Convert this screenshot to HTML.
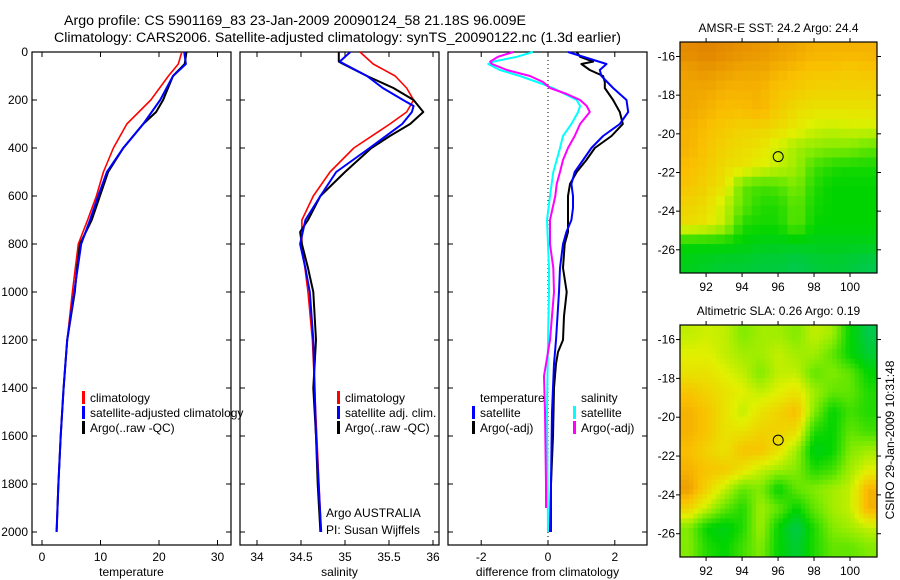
<!DOCTYPE html>
<html><head><meta charset="utf-8"><style>
html,body{margin:0;padding:0;background:#fff;}
svg{display:block;font-family:"Liberation Sans",Helvetica,Arial,sans-serif;}
</style></head><body>
<svg id="fig" width="900" height="580" viewBox="0 0 900 580" xmlns="http://www.w3.org/2000/svg">
<text x="64" y="25" font-size="14.2">Argo profile: CS 5901169_83 23-Jan-2009 20090124_58 21.18S 96.009E</text>
<text x="54" y="42" font-size="14.2">Climatology: CARS2006. Satellite-adjusted climatology: synTS_20090122.nc (1.3d earlier)</text>
<g id="g"></g>
</svg>
<script>
// ---------- data ----------
const depthTicks=[0,200,400,600,800,1000,1200,1400,1600,1800,2000];
const tempTicks=[0,10,20,30];
const salTicks=[34,34.5,35,35.5,36];
const diffTicks=[-2,0,2];
const lonTicks=[92,94,96,98,100];
const latTicks=[-16,-18,-20,-22,-24,-26];

const tArgoD=[0,50,100,200,250,300,400,500,600,700,800,900,1000,1200,1400,1600,1800,2000];
const tArgoV=[24.7,24.4,22.4,20.7,19.5,17.3,13.9,11.3,9.9,8.5,6.5,6.0,5.6,4.3,3.7,3.2,2.8,2.5];
const tClimD=[0,50,100,200,300,400,500,600,700,800,1000,1200,1400,1600,1800,2000];
const tClimV=[23.9,23.3,21.6,18.6,14.5,12.2,10.5,9.3,7.8,6.2,5.2,4.3,3.7,3.2,2.8,2.5];
const tSatD=[0,50,100,200,300,400,500,600,700,800,1000,1200,1400,1600,1800,2000];
const tSatV=[24.3,24.6,22.4,20.2,17.3,13.9,11.1,9.6,8.2,6.7,5.5,4.3,3.7,3.2,2.8,2.5];

const sArgoD=[0,40,50,100,150,200,250,300,350,400,500,600,700,750,800,900,1000,1200,1400,1600,1800,2000];
const sArgoV=[34.93,34.93,34.98,35.25,35.55,35.78,35.89,35.74,35.51,35.30,35.0,34.72,34.58,34.49,34.51,34.58,34.64,34.67,34.64,34.67,34.69,34.72];
const sSatD=[0,40,100,150,200,225,250,300,400,500,600,700,800,900,1000,1200,1600,2000];
const sSatV=[35.06,34.94,35.25,35.43,35.66,35.78,35.76,35.65,35.28,34.9,34.72,34.55,34.49,34.55,34.6,34.64,34.67,34.73];
const sClimD=[0,50,100,150,200,250,300,400,500,600,700,800,1000,1200,1600,2000];
const sClimV=[35.17,35.32,35.57,35.70,35.78,35.70,35.51,35.10,34.83,34.64,34.51,34.51,34.58,34.63,34.68,34.73];

const dTArgoD=[0,20,40,50,75,100,125,150,200,250,300,350,400,450,500,550,600,700,750,800,900,1000,1100,1200,1250,1300,1400,1600,1800,2000];
const dTArgoV=[0.86,0.96,1.35,1.0,1.25,1.65,1.7,1.7,1.95,2.15,2.24,1.9,1.4,1.15,0.86,0.66,0.6,0.6,0.6,0.5,0.45,0.56,0.48,0.45,0.3,0.24,0.18,0.15,0.09,0.06];
const dTSatD=[0,50,75,100,150,200,250,300,350,400,450,500,550,600,650,700,750,800,900,1000,1200,1300,1500,1800,2000];
const dTSatV=[0.6,1.75,1.55,1.6,1.95,2.35,2.4,2.15,1.65,1.3,1.05,0.8,0.7,0.75,0.75,0.7,0.55,0.45,0.36,0.33,0.24,0.18,0.12,0.09,0.09];
const dSArgoD=[0,20,40,50,75,100,125,150,175,200,225,250,300,350,400,450,500,550,600,700,800,900,1000,1200,1300,1350,1500,1800,1900];
const dSArgoV=[-1.04,-1.5,-1.73,-1.68,-1.23,-0.54,-0.15,0.06,0.56,0.96,1.16,1.25,0.96,0.8,0.6,0.45,0.36,0.26,0.22,0.06,0.06,0.16,0.18,0.06,-0.06,-0.12,-0.09,-0.06,-0.06];
const dSSatD=[0,20,40,50,75,100,125,150,200,225,250,300,350,400,450,500,600,700,800,900,1000,1200,1500,2000];
const dSSatV=[-0.45,-0.93,-1.64,-1.79,-1.44,-0.84,-0.33,0.15,0.86,0.96,0.9,0.7,0.45,0.36,0.26,0.16,0.06,-0.03,0,0.03,0.03,0,-0.03,0];

// map grids: rows north->south (1 deg), cols west->east (1 deg), normalized colour value 0..1
const sstGrid=[
[0.95,0.97,0.95,0.93,0.92,0.9,0.88,0.85,0.85,0.85,0.85],
[0.9,0.92,0.9,0.88,0.88,0.85,0.82,0.8,0.8,0.78,0.8],
[0.88,0.88,0.85,0.85,0.85,0.8,0.78,0.75,0.75,0.75,0.75],
[0.88,0.85,0.82,0.82,0.85,0.78,0.72,0.7,0.7,0.7,0.7],
[0.85,0.82,0.78,0.75,0.75,0.72,0.68,0.62,0.6,0.62,0.62],
[0.85,0.8,0.75,0.72,0.7,0.62,0.55,0.52,0.5,0.5,0.45],
[0.82,0.78,0.72,0.7,0.65,0.6,0.55,0.4,0.35,0.33,0.33],
[0.8,0.75,0.7,0.45,0.4,0.42,0.5,0.35,0.3,0.3,0.3],
[0.75,0.72,0.6,0.45,0.35,0.35,0.45,0.33,0.3,0.3,0.3],
[0.72,0.68,0.6,0.35,0.33,0.33,0.45,0.3,0.3,0.3,0.3],
[0.3,0.3,0.3,0.28,0.25,0.25,0.25,0.25,0.25,0.25,0.25],
[0.25,0.22,0.2,0.2,0.18,0.18,0.15,0.18,0.2,0.18,0.15]];
const slaGrid=[
[0.6,0.62,0.6,0.5,0.55,0.55,0.5,0.6,0.55,0.3,0.15],
[0.65,0.65,0.6,0.55,0.55,0.6,0.55,0.55,0.45,0.3,0.2],
[0.7,0.7,0.65,0.6,0.5,0.6,0.6,0.45,0.5,0.45,0.3],
[0.8,0.75,0.7,0.65,0.6,0.65,0.7,0.55,0.45,0.45,0.35],
[0.85,0.8,0.7,0.6,0.7,0.75,0.82,0.5,0.3,0.4,0.35],
[0.85,0.8,0.7,0.7,0.75,0.75,0.72,0.35,0.3,0.45,0.4],
[0.82,0.75,0.7,0.8,0.8,0.7,0.55,0.25,0.3,0.5,0.55],
[0.85,0.8,0.78,0.7,0.6,0.55,0.5,0.35,0.4,0.55,0.65],
[0.9,0.75,0.6,0.45,0.5,0.3,0.45,0.5,0.55,0.6,0.85],
[0.75,0.6,0.45,0.35,0.55,0.45,0.3,0.45,0.55,0.6,0.85],
[0.5,0.3,0.25,0.35,0.55,0.3,0.15,0.35,0.5,0.55,0.6],
[0.5,0.35,0.3,0.4,0.5,0.3,0.2,0.35,0.45,0.45,0.5]];
const argoLon=96.009, argoLat=-21.18;

// ---------- drawing ----------
const NS='http://www.w3.org/2000/svg';
const G=document.getElementById('g');
function mk(tag,attrs,parent){const e=document.createElementNS(NS,tag);for(const k in attrs)e.setAttribute(k,attrs[k]);(parent||G).appendChild(e);return e;}
function txt(s,x,y,attrs){const e=mk('text',Object.assign({x:x,y:y,'font-size':12},attrs||{}));e.textContent=s;return e;}

const Y0=52,Y1=545;
const yD=d=>52+d*0.24;
const panels=[
 {x0:32,x1:231,fx:v=>42+v*5.85,ticks:tempTicks,label:'temperature',name:'temperature'},
 {x0:240,x1:439,fx:v=>257+(v-34)*88,ticks:salTicks,label:'salinity',name:'salinity'},
 {x0:448,x1:647,fx:v=>548+v*33.4,ticks:diffTicks,label:'difference from climatology',name:'difference'}];

panels.forEach((p,i)=>{
  const box=mk('rect',{x:p.x0,y:Y0,width:p.x1-p.x0,height:Y1-Y0,fill:'none',stroke:'#000','stroke-width':1.2});
  
  
  depthTicks.forEach(d=>{
    const y=yD(d);
    mk('line',{x1:p.x0,x2:p.x0+5,y1:y,y2:y,stroke:'#000'});
    mk('line',{x1:p.x1,x2:p.x1-5,y1:y,y2:y,stroke:'#000'});
    if(i===0){const t=txt(String(d),p.x0-4,y+4,{'text-anchor':'end'});
      
      }
  });
  p.ticks.forEach(v=>{
    const x=p.fx(v);
    mk('line',{x1:x,x2:x,y1:Y1,y2:Y1-5,stroke:'#000'});
    mk('line',{x1:x,x2:x,y1:Y0,y2:Y0+5,stroke:'#000'});
    const t=txt(String(v),x,Y1+16,{'text-anchor':'middle'});
    
    
  });
  const l=txt(p.label,(p.x0+p.x1)/2,Y1+31,{'text-anchor':'middle'});
  
  
});
const zl=mk('line',{x1:548,x2:548,y1:Y0,y2:Y1,stroke:'#000','stroke-dasharray':'1,3'});



function series(p,D,V,col,w,name){
  const pts=D.map((d,k)=>p.fx(V[k]).toFixed(1)+','+yD(d).toFixed(1)).join(' ');
  const e=mk('polyline',{points:pts,fill:'none',stroke:col,'stroke-width':w,'stroke-linejoin':'round'});
  
  
}
series(panels[0],tClimD,tClimV,'#f00',1.6,'temp-climatology-line');
series(panels[0],tArgoD,tArgoV,'#000',2,'temp-argo-line');
series(panels[0],tSatD,tSatV,'#00f',2,'temp-satellite-line');
series(panels[1],sClimD,sClimV,'#f00',1.6,'sal-climatology-line');
series(panels[1],sArgoD,sArgoV,'#000',2,'sal-argo-line');
series(panels[1],sSatD,sSatV,'#00f',2,'sal-satellite-line');
series(panels[2],dSSatD,dSSatV,'#0ff',2,'diff-sal-satellite-line');
series(panels[2],dSArgoD,dSArgoV,'#f0f',2,'diff-sal-argo-line');
series(panels[2],dTArgoD,dTArgoV,'#000',2,'diff-temp-argo-line');
series(panels[2],dTSatD,dTSatV,'#00f',2,'diff-temp-satellite-line');

function legend(x,y,col,label,name){
  if(col){const m=mk('rect',{x:x,y:y-7,width:3,height:13,fill:col});
    
    }
  const t=txt(label,x+8,y+4);
  
  
}
legend(82,398,'#f00','climatology','legend-temp-climatology');
legend(82,413,'#00f','satellite-adjusted climatology','legend-temp-satellite');
legend(82,428,'#000','Argo(..raw -QC)','legend-temp-argo');
legend(337,398,'#f00','climatology','legend-sal-climatology');
legend(337,413,'#00f','satellite adj. clim.','legend-sal-satellite');
legend(337,428,'#000','Argo(..raw -QC)','legend-sal-argo');
legend(472,398,null,'temperature','legend-diff-temp-header');
legend(472,413,'#00f','satellite','legend-diff-temp-satellite');
legend(472,428,'#000','Argo(-adj)','legend-diff-temp-argo');
legend(573,398,null,'salinity','legend-diff-sal-header');
legend(573,413,'#0ff','satellite','legend-diff-sal-satellite');
legend(573,428,'#f0f','Argo(-adj)','legend-diff-sal-argo');
const a1=txt('Argo AUSTRALIA',326,517);
const a2=txt('PI: Susan Wijffels',326,534);

// ---------- maps ----------
const stops=[[0,[0,190,150]],[0.3,[0,212,0]],[0.5,[130,235,0]],[0.65,[225,240,0]],[0.82,[250,190,0]],[1,[220,120,0]]];
function cmap(v){for(let k=1;k<stops.length;k++){if(v<=stops[k][0]){const a=stops[k-1],b=stops[k],t=(v-a[0])/(b[0]-a[0]);
  return 'rgb('+a[1].map((c,j)=>Math.round(c+(b[1][j]-c)*t)).join(',')+')';}}return 'rgb(220,120,0)';}
const LON0=90.55,LON1=101.5,LAT0=-15.25,LAT1=-27.2;
function sample(grid,r,c){ // bilinear sample at fractional grid coords (cell centres)
  const R=grid.length,C=grid[0].length;
  r=Math.max(0,Math.min(R-1,r));c=Math.max(0,Math.min(C-1,c));
  const r0=Math.floor(r),c0=Math.floor(c),r1=Math.min(R-1,r0+1),c1=Math.min(C-1,c0+1),fr=r-r0,fc=c-c0;
  return (grid[r0][c0]*(1-fc)+grid[r0][c1]*fc)*(1-fr)+(grid[r1][c0]*(1-fc)+grid[r1][c1]*fc)*fr;
}
function drawMap(top,bot,grid,title,name,sub){
  const X0=680,X1=877;
  const fx=lon=>X0+(lon-LON0)/(LON1-LON0)*(X1-X0);
  const fy=lat=>top+(lat-LAT0)/(LAT1-LAT0)*(bot-top);
  const rows=grid.length,cols=grid[0].length;
  const NR=rows*sub,NC=cols*sub;
  for(let r=0;r<NR;r++)for(let c=0;c<NC;c++){
    const v=sub===1?grid[r][c]:sample(grid,(r+0.5)/sub-0.5,(c+0.5)/sub-0.5);
    const lonA=LON0+c*(LON1-LON0)/NC,lonB=LON0+(c+1)*(LON1-LON0)/NC;
    const latA=LAT0+r*(LAT1-LAT0)/NR,latB=LAT0+(r+1)*(LAT1-LAT0)/NR;
    const e=mk('rect',{x:fx(lonA),y:fy(latA),width:fx(lonB)-fx(lonA)+0.5,height:fy(latB)-fy(latA)+0.5,fill:cmap(v)});
    
    
  }
  const f=mk('rect',{x:X0,y:top,width:X1-X0,height:bot-top,fill:'none',stroke:'#000','stroke-width':1.2});
  
  
  lonTicks.forEach(l=>{const x=fx(l);mk('line',{x1:x,x2:x,y1:top,y2:top-4,stroke:'#000'});mk('line',{x1:x,x2:x,y1:bot,y2:bot+4,stroke:'#000'});
    const t=txt(String(l),x,bot+18,{'text-anchor':'middle'});});
  latTicks.forEach(l=>{const y=fy(l);mk('line',{x1:X0,x2:X0-4,y1:y,y2:y,stroke:'#000'});mk('line',{x1:X1,x2:X1+4,y1:y,y2:y,stroke:'#000'});
    const t=txt(String(l),X0-5,y+4,{'text-anchor':'end'});});
  const c=mk('circle',{cx:fx(argoLon),cy:fy(argoLat),r:5,fill:'none',stroke:'#000'});
  
  
  const t=txt(title,(X0+X1)/2,top-10,{'text-anchor':'middle'});
  
  
}
drawMap(42,273,sstGrid,'AMSR-E SST: 24.2 Argo: 24.4','sst-map',2);
drawMap(325,557,slaGrid,'Altimetric SLA: 0.26 Argo: 0.19','sla-map',4);
const cs=txt('CSIRO 29-Jan-2009 10:31:48',0,0,{'text-anchor':'middle',transform:'translate(894,440) rotate(-90)'});


</script>
</body></html>
